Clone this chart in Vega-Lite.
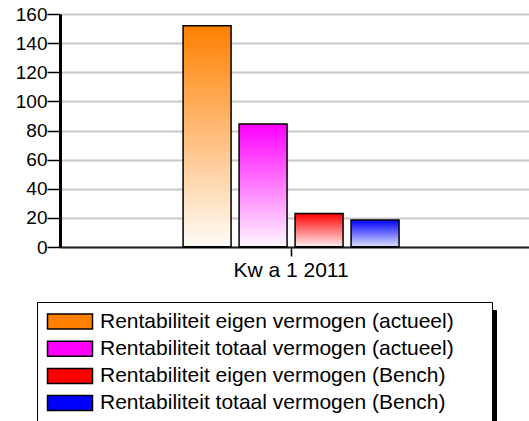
{
  "$schema": "https://vega.github.io/schema/vega-lite/v6.json",
  "width": 469,
  "height": 233,
  "autosize": {"type": "none"},
  "padding": {"left": 60, "top": 14, "right": 0, "bottom": 174},
  "background": "white",
  "config": {
    "view": {"stroke": null},
    "font": "Liberation Sans",
    "axis": {"labelOverlap": false}
  },
  "data": {
    "values": [
      {"q": "Kw a 1 2011", "s": "Rentabiliteit eigen vermogen (actueel)", "v": 152},
      {"q": "Kw a 1 2011", "s": "Rentabiliteit totaal vermogen (actueel)", "v": 84.5},
      {"q": "Kw a 1 2011", "s": "Rentabiliteit eigen vermogen (Bench)", "v": 23},
      {"q": "Kw a 1 2011", "s": "Rentabiliteit totaal vermogen (Bench)", "v": 18.5}
    ]
  },
  "encoding": {
    "x": {
      "field": "q", "type": "nominal",
      "scale": {"paddingInner": 0, "paddingOuter": 0.547, "align": 0.486},
      "axis": {
        "title": null, "labelAngle": 0, "labelFontSize": 21, "labelColor": "black",
        "tickColor": "black", "tickSize": 9, "tickWidth": 1.5, "labelPadding": 3,
        "domainColor": "#222", "domainWidth": 2, "grid": false
      }
    },
    "xOffset": {
      "field": "s", "type": "nominal",
      "sort": ["Rentabiliteit eigen vermogen (actueel)", "Rentabiliteit totaal vermogen (actueel)", "Rentabiliteit eigen vermogen (Bench)", "Rentabiliteit totaal vermogen (Bench)"],
      "scale": {"paddingInner": 0.143, "paddingOuter": 0.0714}
    }
  },
  "layer": [
    {
      "mark": {"type": "bar", "stroke": "black", "strokeWidth": 1.5},
      "encoding": {
        "y": {
          "field": "v", "type": "quantitative",
          "scale": {"domain": [0, 160], "nice": false},
          "axis": {
            "title": null, "values": [0, 20, 40, 60, 80, 100, 120, 140, 160],
            "labelOverlap": false,
            "labelFontSize": 19, "labelColor": "black", "tickColor": "black",
            "tickSize": 13, "tickWidth": 1.5, "labelPadding": 0,
            "domainColor": "black", "domainWidth": 3,
            "gridColor": "#c8c8c8", "gridWidth": 2
          }
        },
        "fill": {
          "condition": [
            {"test": "datum.s === 'Rentabiliteit eigen vermogen (actueel)'", "value": {"gradient": "linear", "x1": 0, "y1": 0, "x2": 0, "y2": 1, "stops": [{"offset": 0, "color": "#ff8000"}, {"offset": 1, "color": "#fffcf8"}]}},
            {"test": "datum.s === 'Rentabiliteit totaal vermogen (actueel)'", "value": {"gradient": "linear", "x1": 0, "y1": 0, "x2": 0, "y2": 1, "stops": [{"offset": 0, "color": "#ff00ff"}, {"offset": 1, "color": "#fff8ff"}]}},
            {"test": "datum.s === 'Rentabiliteit eigen vermogen (Bench)'", "value": {"gradient": "linear", "x1": 0, "y1": 0, "x2": 0, "y2": 1, "stops": [{"offset": 0, "color": "#ff0000"}, {"offset": 1, "color": "#fff0f0"}]}}
          ],
          "value": {"gradient": "linear", "x1": 0, "y1": 0, "x2": 0, "y2": 1, "stops": [{"offset": 0, "color": "#0000ff"}, {"offset": 1, "color": "#e0e4ff"}]}
        }
      }
    },
    {
      "mark": {"type": "bar", "stroke": "black", "strokeWidth": 1},
      "encoding": {
        "y": {
          "datum": 0, "type": "quantitative",
          "axis": {
            "title": null, "values": [0, 20, 40, 60, 80, 100, 120, 140, 160],
            "labelOverlap": false,
            "labelFontSize": 19, "labelColor": "black", "tickColor": "black",
            "tickSize": 13, "tickWidth": 1.5, "labelPadding": 0,
            "domainColor": "black", "domainWidth": 3,
            "gridColor": "#c8c8c8", "gridWidth": 2
          }
        },
        "color": {
          "field": "s", "type": "nominal",
          "scale": {
            "domain": ["Rentabiliteit totaal vermogen (Bench)", "Rentabiliteit eigen vermogen (Bench)", "Rentabiliteit totaal vermogen (actueel)", "Rentabiliteit eigen vermogen (actueel)"],
            "range": ["black", "black", "black", "black"]
          },
          "legend": {
            "title": null, "orient": "none", "legendX": -18, "legendY": 296,
            "direction": "vertical",
            "symbolType": "M-1,-1H47V1H-1Z", "symbolSize": 324,
            "symbolStrokeColor": "black", "symbolStrokeWidth": 1,
            "labelExpr": "''", "labelFontSize": 21, "labelOffset": 0,
            "strokeColor": "black", "fillColor": "black", "padding": 9, "rowPadding": 12
          }
        }
      }
    },
    {
      "mark": {"type": "bar", "stroke": "black", "strokeWidth": 1},
      "encoding": {
        "y": {
          "datum": 0, "type": "quantitative",
          "axis": {
            "title": null, "values": [0, 20, 40, 60, 80, 100, 120, 140, 160],
            "labelOverlap": false,
            "labelFontSize": 19, "labelColor": "black", "tickColor": "black",
            "tickSize": 13, "tickWidth": 1.5, "labelPadding": 0,
            "domainColor": "black", "domainWidth": 3,
            "gridColor": "#c8c8c8", "gridWidth": 2
          }
        },
        "fill": {
          "field": "s", "type": "nominal",
          "scale": {
            "domain": ["Rentabiliteit eigen vermogen (actueel)", "Rentabiliteit totaal vermogen (actueel)", "Rentabiliteit eigen vermogen (Bench)", "Rentabiliteit totaal vermogen (Bench)"],
            "range": ["#ff8000", "#ff00ff", "#ff0000", "#0000ff"]
          },
          "legend": {
            "title": null, "orient": "none", "legendX": -23, "legendY": 288,
            "direction": "vertical",
            "symbolType": "M-1,-0.833H4V0.833H-1Z M47,0", "symbolSize": 324,
            "symbolStrokeColor": "black", "symbolStrokeWidth": 1.5,
            "labelFontSize": 21, "labelColor": "black", "labelLimit": 600, "labelOffset": 33,
            "strokeColor": "black", "fillColor": "white", "padding": 9, "rowPadding": 5.2
          }
        }
      }
    }
  ]
}
